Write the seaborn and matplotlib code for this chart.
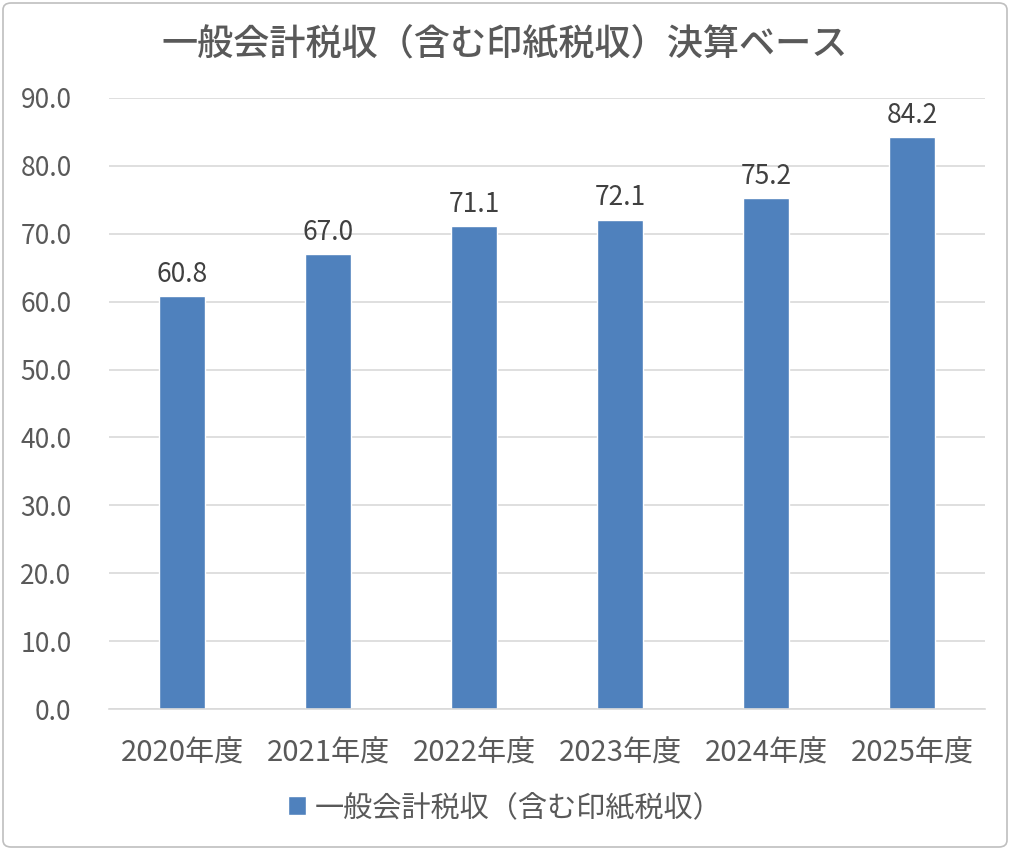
import matplotlib
matplotlib.use("Agg")
import matplotlib.pyplot as plt
import seaborn as sns
import pandas as pd
from matplotlib.patches import FancyBboxPatch

categories = ["2020年度", "2021年度", "2022年度", "2023年度", "2024年度", "2025年度"]
values = [60.8, 67.0, 71.1, 72.1, 75.2, 84.2]
series_name = "一般会計税収（含む印紙税収）"
title = "一般会計税収（含む印紙税収）決算ベース"
yticks = [0, 10, 20, 30, 40, 50, 60, 70, 80, 90]

sns.set_theme(style="white")
plt.rcParams['font.family'] = ['Noto Sans CJK JP', 'DejaVu Sans']

df = pd.DataFrame({"year": categories, "value": values, "series": series_name})

bar_color = "#4F81BD"
text_color = "#595959"

fig = plt.figure(figsize=(10.1, 8.5), dpi=100)
ax = fig.add_axes([109/1010, 1 - 709/850, 876/1010, 611/850])

sns.barplot(data=df, x="year", y="value", hue="series", palette=[bar_color],
            width=0.315, ax=ax, legend=True, saturation=1)

ax.set_ylim(0, 90)
ax.set_yticks(yticks)
ax.set_yticklabels([f"{v:.1f}" for v in yticks], fontsize=19, color=text_color)
ax.set_xlim(-0.5, len(categories) - 0.5)
ax.tick_params(axis='x', labelsize=21, colors=text_color, length=0, pad=21)
ax.tick_params(axis='y', length=0, pad=27)
ax.set_xlabel("")
ax.set_ylabel("")
ax.grid(axis='y', color="#D9D9D9", linewidth=1.2)
ax.set_axisbelow(True)
for s in ["top", "right", "left"]:
    ax.spines[s].set_visible(False)
ax.spines["bottom"].set_color("#D9D9D9")
ax.spines["bottom"].set_linewidth(1.2)

for cont in ax.containers:
    ax.bar_label(cont, labels=[f"{v:.1f}" for v in values], padding=6,
                 fontsize=19, color="#404040")

leg = ax.legend(loc="center", bbox_to_anchor=(0.5, (850-808)/850), bbox_transform=fig.transFigure,
                frameon=False, fontsize=21, handlelength=0.6, handleheight=0.6, handletextpad=0.3)
for t in leg.get_texts():
    t.set_color(text_color)

fig.text(0.5, 1 - 45/850, title, ha="center", va="center", fontsize=26,
         fontweight="medium", color=text_color)

border = FancyBboxPatch((3/1010, 3/850), 1 - 6/1010, 1 - 6/850,
                        boxstyle="round,pad=0,rounding_size=0.008",
                        transform=fig.transFigure, fill=False,
                        edgecolor="#BFBFBF", linewidth=1.2)
fig.patches.append(border)

fig.savefig("out.png", dpi=100)
